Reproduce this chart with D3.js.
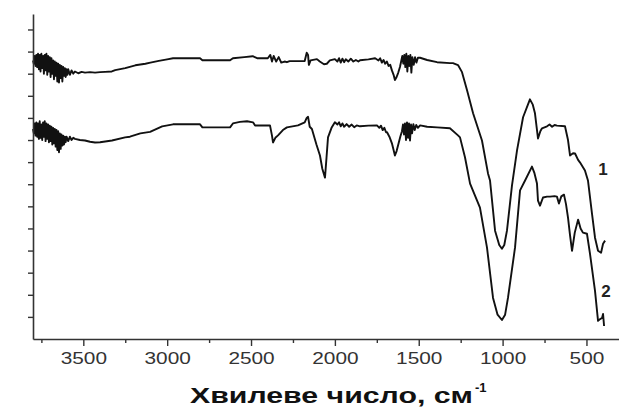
<!DOCTYPE html>
<html>
<head>
<meta charset="utf-8">
<script src="https://cdn.jsdelivr.net/npm/d3@7"></script>
<style>
  html, body { margin: 0; padding: 0; background: #fff; }
  svg { display: block; }
</style>
</head>
<body>
<svg id="chart" width="619" height="409"></svg>
<script>
// ---- data: wavenumber (cm^-1) and transmittance (a.u.) ----
const wn1 = [3800,3795,3790,3785,3780,3775,3770,3765,3760,3755,3750,3745,3740,3735,3730,3725,3720,3715,3710,3705,3700,3695,3690,3685,3680,3675,3670,3665,3660,3655,3650,3645,3640,3635,3630,3625,3620,3615,3610,3605,3600,3595,3590,3580,3570,3560,3550,3530,3510,3490,3460,3430,3400,3370,3330,3310,3250,3190,3130,3100,3050,3000,2965,2804,2790,2625,2608,2540,2490,2464,2400,2385,2375,2365,2350,2335,2320,2300,2286,2270,2180,2168,2160,2155,2145,2107,2090,2065,2048,2030,2000,1985,1975,1965,1955,1945,1935,1920,1905,1890,1875,1860,1850,1800,1760,1740,1730,1720,1710,1700,1690,1680,1670,1660,1650,1642,1632,1622,1612,1605,1598,1592,1586,1580,1574,1568,1562,1556,1550,1544,1538,1530,1522,1514,1505,1492,1450,1391,1314,1296,1266,1242,1212,1176,1123,1087,1075,1045,1020,1004,990,974,944,914,878,837,820,807,789,775,765,735,720,705,690,676,628,610,598,580,568,550,539,509,491,467,449,431,413,401,389];
const t1 = [12.60,12.45,12.80,12.35,12.85,12.30,12.90,12.20,12.85,12.10,12.90,12.25,12.80,12.00,12.85,12.15,12.90,11.95,12.80,12.10,12.75,11.85,12.70,12.00,12.60,11.75,12.55,11.90,12.50,11.65,12.45,11.60,12.40,11.80,12.35,11.65,12.30,11.90,12.25,11.85,12.20,11.95,12.20,11.95,12.15,12.00,12.10,12.02,12.08,12.05,12.07,12.05,12.07,12.08,12.10,12.16,12.25,12.38,12.45,12.50,12.58,12.65,12.70,12.70,12.61,12.61,12.70,12.75,12.79,12.70,12.70,12.85,12.55,12.80,12.55,12.75,12.50,12.55,12.52,12.57,12.57,12.95,12.85,12.40,12.60,12.66,12.55,12.43,12.45,12.60,12.66,12.55,12.70,12.50,12.68,12.52,12.65,12.55,12.68,12.55,12.62,12.55,12.61,12.65,12.70,12.60,12.70,12.50,12.62,12.45,12.55,12.35,12.40,12.15,11.95,11.71,11.85,12.05,12.30,12.55,12.80,12.45,12.85,12.30,12.90,12.10,12.80,12.35,12.85,12.05,12.75,12.40,12.75,12.50,12.72,12.72,12.62,12.52,12.48,12.48,12.39,12.07,11.25,10.21,8.98,7.49,7.17,4.90,4.25,4.08,4.25,4.90,6.95,8.53,10.03,10.84,10.60,10.21,9.07,9.40,9.53,9.62,9.70,9.60,9.68,9.65,9.62,9.00,8.30,8.40,8.39,8.10,7.99,7.62,7.17,5.67,4.58,3.99,3.90,4.31,4.45];

const wn2 = [3800,3795,3790,3785,3780,3775,3770,3765,3760,3755,3750,3745,3740,3735,3730,3725,3720,3715,3710,3705,3700,3695,3690,3685,3680,3675,3670,3665,3660,3655,3650,3645,3640,3635,3630,3625,3620,3615,3610,3605,3600,3590,3580,3570,3560,3550,3520,3490,3460,3430,3400,3329,3251,3222,3160,3102,3030,2965,2804,2790,2625,2608,2566,2524,2488,2476,2387,2375,2369,2355,2339,2310,2286,2220,2180,2168,2160,2150,2137,2110,2089,2075,2059,2050,2041,2020,2000,1985,1975,1965,1955,1945,1930,1915,1900,1885,1870,1850,1800,1749,1735,1725,1715,1705,1695,1689,1675,1660,1650,1642,1632,1620,1610,1600,1594,1588,1582,1576,1570,1564,1558,1552,1546,1540,1532,1524,1515,1505,1492,1450,1391,1314,1266,1254,1224,1194,1135,1093,1057,1030,1004,985,968,926,896,866,825,810,795,789,777,759,735,717,690,676,664,650,634,622,610,598,586,570,550,535,521,497,479,449,431,419,407,401,395];
const t2 = [9.50,9.30,9.75,9.20,9.80,9.15,9.75,9.05,9.85,9.10,9.70,9.00,9.80,9.15,9.85,8.95,9.75,9.05,9.70,8.90,9.65,8.95,9.60,8.80,9.55,8.85,9.50,8.70,9.45,8.55,9.40,8.45,9.30,8.60,9.25,8.75,9.20,8.80,9.15,8.90,9.15,8.95,9.15,9.00,9.10,9.05,9.00,8.98,8.92,8.89,8.90,8.98,9.12,9.15,9.30,9.37,9.62,9.71,9.71,9.57,9.57,9.75,9.82,9.85,9.80,9.66,9.66,9.20,8.89,9.10,9.21,9.45,9.57,9.66,9.80,10.00,10.05,9.60,9.50,8.80,8.30,7.70,7.30,8.20,9.12,9.55,9.80,9.70,9.80,9.62,9.75,9.60,9.72,9.60,9.70,9.58,9.66,9.62,9.65,9.66,9.55,9.65,9.45,9.55,9.35,9.35,9.15,8.85,8.55,8.30,8.50,8.85,9.15,9.40,9.70,9.25,9.75,9.00,9.80,9.10,9.75,8.98,9.70,9.30,9.72,9.45,9.68,9.55,9.66,9.60,9.57,9.53,9.21,9.12,8.21,7.03,5.94,4.13,1.86,1.10,0.86,1.10,1.86,4.13,6.72,7.17,7.80,7.50,7.03,6.26,6.03,6.40,6.44,6.44,6.46,6.44,6.13,6.45,6.53,6.10,5.49,4.70,3.99,4.80,5.40,5.00,4.81,4.76,3.86,2.18,0.82,0.90,0.95,1.13,0.59];

const xTicksMajor = [3500,3000,2500,2000,1500,1000,500];
const xTicksMinor = [3750,3250,2750,2250,1750,1250,750];
const yTicks = [1,2,3,4,5,6,7,8,9,10,11,12,13,14];
const curveLabels = ["1","2"];
const labelWn = [401,383];
const labelT = [7.4,1.9];
const xTitle = "Хвилеве число, см";
const xTitleSup = "-1";

// ---- drawing ----
const svg = d3.select("#chart");
const x = d3.scaleLinear().domain([3800, 300]).range([33, 620]);
const y = d3.scaleLinear().domain([0, 14.7]).range([339, 14]);
const axisColor = "#333";

// curves
const line = d3.line().x(d => x(d[0])).y(d => y(d[1]));
[[wn1, t1], [wn2, t2]].forEach(([w, t]) => {
  svg.append("path")
    .datum(w.map((v, i) => [v, t[i]]))
    .attr("d", line)
    .attr("fill", "none")
    .attr("stroke", "#111")
    .attr("stroke-width", 1.9)
    .attr("stroke-linejoin", "round");
});

// x axis
const gx = svg.append("g").attr("transform", `translate(0,${y(0)})`);
gx.call(d3.axisBottom(x).tickValues(xTicksMajor).tickSize(7).tickSizeOuter(0).tickFormat(d3.format("d")));
const gxm = svg.append("g").attr("transform", `translate(0,${y(0)})`);
gxm.call(d3.axisBottom(x).tickValues(xTicksMinor).tickSize(4).tickSizeOuter(0).tickFormat(""));
gxm.select(".domain").remove();
[gx, gxm].forEach(g => {
  g.select(".domain").attr("stroke", axisColor).attr("stroke-width", 1.6);
  g.selectAll(".tick line").attr("stroke", axisColor).attr("stroke-width", 1.4);
});
gx.selectAll(".tick text")
  .attr("fill", "#333")
  .attr("font-family", "Liberation Sans, Arial, sans-serif")
  .attr("font-size", 16)
  .attr("dy", null)
  .attr("y", 25)
  .each(function() {
    const len = this.getComputedTextLength();
    d3.select(this).attr("textLength", len * 1.3).attr("lengthAdjust", "spacingAndGlyphs");
  });

// y axis
const gy = svg.append("g").attr("transform", `translate(${x(3800)},0)`);
gy.call(d3.axisLeft(y).tickValues(yTicks).tickSize(5).tickSizeOuter(0).tickFormat(""));
gy.select(".domain").attr("stroke", axisColor).attr("stroke-width", 1.6);
gy.selectAll(".tick line").attr("stroke", axisColor).attr("stroke-width", 1.4);

// curve labels
svg.selectAll("text.clab")
  .data(curveLabels)
  .join("text")
  .attr("class", "clab")
  .attr("x", (d, i) => x(labelWn[i]))
  .attr("y", (d, i) => y(labelT[i]))
  .attr("text-anchor", "middle")
  .attr("font-family", "Liberation Sans, Arial, sans-serif")
  .attr("font-weight", "bold")
  .attr("font-size", 17)
  .attr("fill", "#222")
  .text(d => d);

// x title
const title = svg.append("text")
  .attr("x", 190)
  .attr("y", 403)
  .attr("font-family", "Liberation Sans, Arial, sans-serif")
  .attr("font-weight", "bold")
  .attr("font-size", 22)
  .attr("fill", "#111")
  .text(xTitle);
title.attr("textLength", 283).attr("lengthAdjust", "spacingAndGlyphs");
svg.append("text")
  .attr("x", 475)
  .attr("y", 392)
  .attr("font-family", "Liberation Sans, Arial, sans-serif")
  .attr("font-weight", "bold")
  .attr("font-size", 13)
  .attr("fill", "#111")
  .text(xTitleSup);
</script>
</body>
</html>
